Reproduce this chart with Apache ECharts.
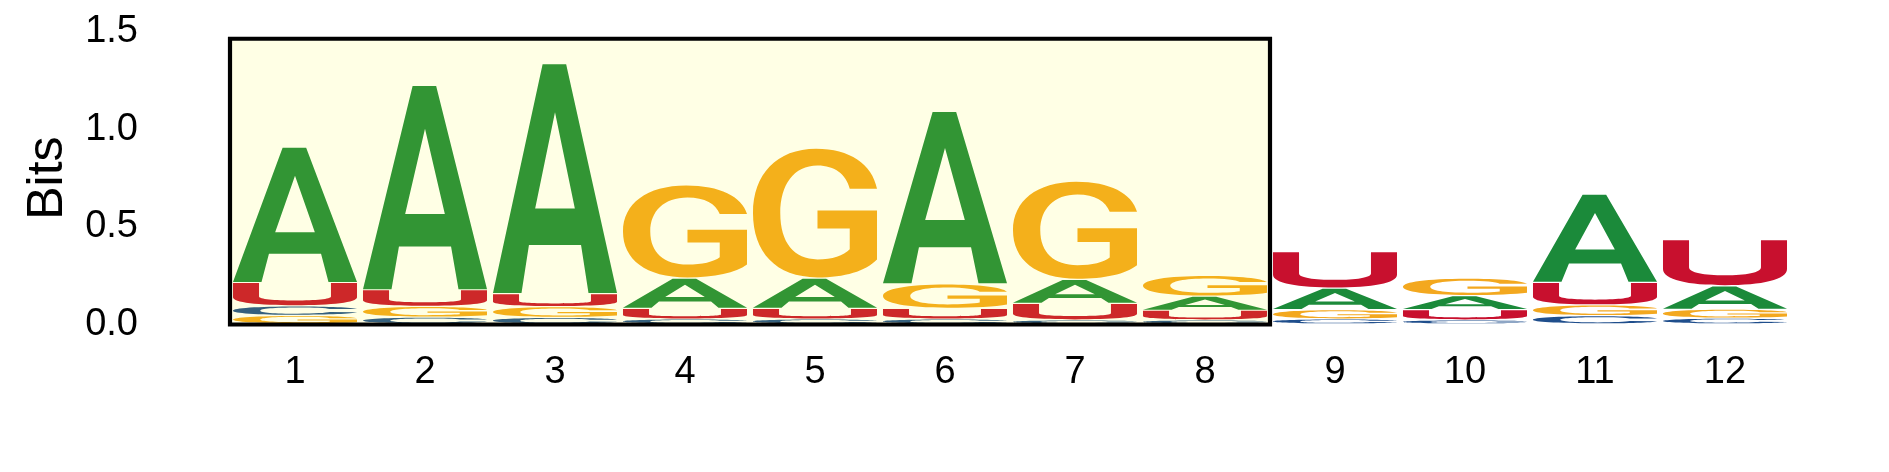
<!DOCTYPE html>
<html>
<head>
<meta charset="utf-8">
<script src="https://cdn.jsdelivr.net/npm/echarts@6/dist/echarts.min.js"></script>
<style>
  html, body { margin: 0; padding: 0; background: #fff; }
  #logo { width: 1889px; height: 472px; }
</style>
</head>
<body>
<div id="logo"></div>
<script>
// positions along the motif
const positions = ['1', '2', '3', '4', '5', '6', '7', '8', '9', '10', '11', '12'];

// information (bits) carried by each nucleotide at each position
const bitsA = [0.694, 1.047, 1.178, 0.155, 0.155, 0.883, 0.123, 0.072, 0.110, 0.072, 0.452, 0.120];
const bitsC = [0.048, 0.035, 0.033, 0.025, 0.025, 0.025, 0.020, 0.020, 0.025, 0.020, 0.042, 0.030];
const bitsG = [0.044, 0.055, 0.055, 0.477, 0.665, 0.125, 0.503, 0.107, 0.048, 0.090, 0.055, 0.045];
const bitsU = [0.120, 0.085, 0.067, 0.055, 0.055, 0.055, 0.085, 0.050, 0.187, 0.053, 0.116, 0.236];

// highlighted block of positions (first, last) and its height in bits
const boxPositions = ['1', '8'];
const boxHeight = [1.464];

const yTicks = [0, 0.5, 1.0, 1.5];

// glyph outlines in a 100x100 box, stretched to fit each stack slot
const glyphs = {
    A: 'M0,100 L40,0 L59,0 L100,100 L77,100 L71,79 L29,79 L23,100 Z M34,63 L66,63 L50,21 Z',
    C: 'M100,31 L78,31 C75,20 66,13 52,13 C33,13 22,28 22,50 C22,73 33,87 52,87 C66,87 75,79 78,68 L100,70 C96,89 78,100 51,100 C18,100 0,80 0,50 C0,20 19,0 51,0 C78,0 96,12 100,31 Z',
    G: 'M100,31 L78,31 C75,20 66,13 52,13 C33,13 22,28 22,50 C22,73 33,86 52,86 C64,86 73,83 78,78 L78,62 L52,62 L52,48 L100,48 L100,86 C91,95 74,100 52,100 C18,100 0,80 0,50 C0,20 19,0 51,0 C78,0 96,12 100,31 Z',
    U: 'M0,0 L21,0 L21,60 C21,72 33,78 50,78 C67,78 79,72 79,60 L79,0 L100,0 L100,64 C100,88 80,100 50,100 C20,100 0,88 0,64 Z'
};
const colors = { A: '#1b8a3a', C: '#1f4e8c', G: '#f3a81f', U: '#c8102e' };

// stack letters per position, smallest at the bottom
const stacks = [];
positions.forEach((p, i) => {
    const col = [['A', bitsA[i]], ['C', bitsC[i]], ['G', bitsG[i]], ['U', bitsU[i]]];
    col.sort((a, b) => a[1] - b[1]);
    let base = 0;
    col.forEach(([letter, h]) => {
        stacks.push([i, base, base + h, letter]);
        base += h;
    });
});

const chart = echarts.init(document.getElementById('logo'));
const font = 'Liberation Sans';

chart.setOption({
    animation: false,
    grid: { left: 230, right: 99, top: 31.7, bottom: 147.5 },
    xAxis: {
        type: 'category',
        data: positions,
        axisLine: { show: false },
        axisTick: { show: false },
        splitLine: { show: false },
        axisLabel: { fontSize: 38, color: '#000', fontFamily: font, margin: 29 }
    },
    yAxis: {
        type: 'value',
        min: 0,
        max: 1.5,
        interval: 0.5,
        name: 'Bits',
        nameLocation: 'middle',
        nameGap: 157,
        nameTextStyle: { fontSize: 50, color: '#000', fontFamily: font },
        axisLine: { show: false },
        axisTick: { show: false },
        splitLine: { show: false },
        axisLabel: {
            fontSize: 38, color: '#000', fontFamily: font, margin: 92,
            formatter: v => (yTicks.indexOf(v) >= 0 ? v.toFixed(1) : '')
        }
    },
    series: [
        {
            type: 'custom',
            z: 2,
            data: stacks,
            renderItem: (params, api) => {
                const idx = api.value(0);
                const bottom = api.coord([idx, api.value(1)]);
                const top = api.coord([idx, api.value(2)]);
                const band = api.size([1, 0])[0];
                const w = band * 0.954;
                const h = bottom[1] - top[1] - 1.2;
                if (h < 0.8) return null;
                const letter = stacks[params.dataIndex][3];
                return {
                    type: 'path',
                    shape: {
                        pathData: glyphs[letter],
                        layout: 'cover',
                        x: bottom[0] - w / 2,
                        y: top[1],
                        width: w,
                        height: h
                    },
                    style: { fill: colors[letter] }
                };
            }
        },
        {
            type: 'custom',
            z: 3,
            data: [[positions.indexOf(boxPositions[0]), positions.indexOf(boxPositions[1]), boxHeight[0]]],
            renderItem: (params, api) => {
                const band = api.size([1, 0])[0];
                const p0 = api.coord([api.value(0), 0]);
                const p1 = api.coord([api.value(1), api.value(2)]);
                return {
                    type: 'rect',
                    shape: {
                        x: p0[0] - band / 2,
                        y: p1[1],
                        width: p1[0] - p0[0] + band,
                        height: p0[1] - p1[1]
                    },
                    style: { fill: 'rgba(255,255,0,0.1)', stroke: '#000', lineWidth: 4.2 }
                };
            }
        }
    ]
});
</script>
</body>
</html>
